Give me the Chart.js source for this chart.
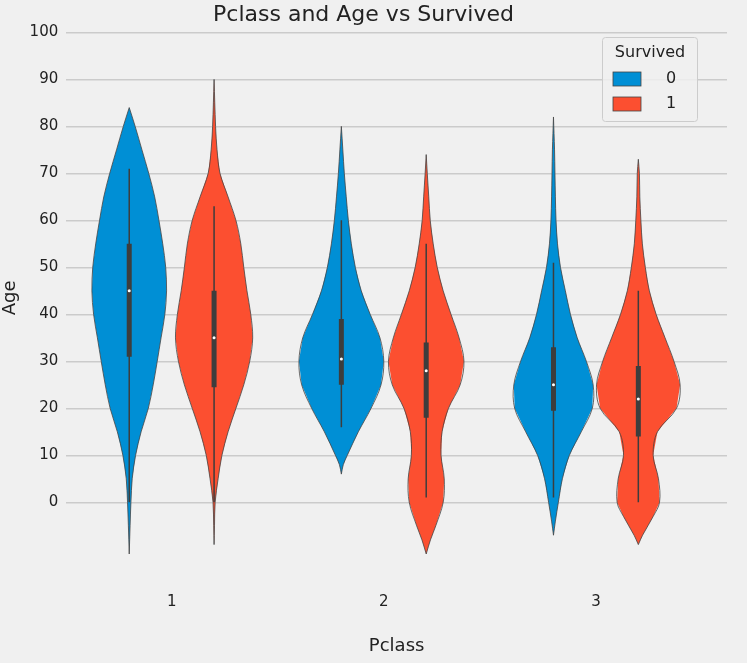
<!DOCTYPE html>
<html>
<head>
<meta charset="utf-8">
<script src="https://cdn.jsdelivr.net/npm/chart.js@4"></script>
<style>
  html, body { margin: 0; padding: 0; background: #f0f0f0; }
  #wrap { width: 747px; height: 663px; }
</style>
</head>
<body>
<div id="wrap"><canvas id="c"></canvas></div>
<script>
// categories and groups
const pclasses = [1, 2, 3];
const survivedGroups = ['0', '1'];
const groupColors = ['#008fd5', '#fc4f30'];

// violin profiles: age points and half-width (fraction of category spacing)
const ages = [
  [-11, -5, 0, 5, 10, 15, 20, 25, 30, 35, 40, 45, 50, 55, 60, 65, 70, 75, 80, 84],
  [-9, -5, 0, 5, 10, 15, 20, 25, 30, 35, 40, 45, 50, 55, 60, 65, 70, 75, 80, 90],
  [6, 8, 10, 15, 20, 25, 30, 35, 40, 45, 50, 55, 60, 65, 70, 75, 80],
  [-11, -8, -5, 0, 5, 10, 15, 20, 25, 30, 35, 40, 45, 50, 55, 60, 65, 70, 74],
  [-7, -4, 0, 5, 10, 15, 20, 25, 30, 35, 40, 45, 50, 55, 60, 65, 70, 75, 82],
  [-9, -7, -3, 0, 5, 10, 15, 20, 25, 30, 35, 40, 45, 50, 55, 60, 65, 70, 73]
];
const widths = [
  [0, 0.004, 0.008, 0.014, 0.03, 0.056, 0.09, 0.113, 0.132, 0.15, 0.168, 0.176, 0.172, 0.158, 0.14, 0.12, 0.092, 0.06, 0.028, 0],
  [0, 0.002, 0.005, 0.019, 0.037, 0.066, 0.103, 0.14, 0.168, 0.182, 0.173, 0.155, 0.14, 0.126, 0.103, 0.066, 0.028, 0.014, 0.007, 0],
  [0, 0.009, 0.028, 0.08, 0.14, 0.187, 0.2, 0.182, 0.136, 0.094, 0.066, 0.047, 0.033, 0.023, 0.014, 0.007, 0],
  [0, 0.02, 0.045, 0.08, 0.085, 0.07, 0.075, 0.105, 0.16, 0.178, 0.155, 0.117, 0.08, 0.052, 0.033, 0.019, 0.012, 0.005, 0],
  [0, 0.009, 0.023, 0.042, 0.075, 0.131, 0.183, 0.187, 0.155, 0.112, 0.08, 0.056, 0.033, 0.019, 0.012, 0.009, 0.007, 0.005, 0],
  [0, 0.02, 0.07, 0.1, 0.095, 0.07, 0.09, 0.18, 0.197, 0.168, 0.126, 0.084, 0.052, 0.033, 0.019, 0.012, 0.007, 0.005, 0]
];
// box stats: [whiskerLow, q1, median, q3, whiskerHigh]
const boxStats = [
  [0, 31, 45, 55, 71],
  [0, 24.5, 35, 45, 63],
  [16, 25, 30.5, 39, 60],
  [1, 18, 28, 34, 55],
  [1, 19.5, 25, 33, 51],
  [0, 14, 22, 29, 45]
];
const yTicks = [0, 10, 20, 30, 40, 50, 60, 70, 80, 90, 100];

const datasets = [];
const offsets = [-0.2, 0.2];
pclasses.forEach((pc, ci) => {
  survivedGroups.forEach((g, gi) => {
    const k = ci * 2 + gi;
    const cx = pc + offsets[gi];
    const pts = [];
    ages[k].forEach((a, i) => pts.push({x: cx - widths[k][i], y: a}));
    for (let i = ages[k].length - 1; i >= 0; i--) pts.push({x: cx + widths[k][i], y: ages[k][i]});
    datasets.push({
      label: 'violin', data: pts, showLine: true, violin: true,
      borderColor: '#444', borderWidth: 0.8, backgroundColor: groupColors[gi],
      pointRadius: 0, fill: false, tension: 0.35, order: 3
    });
    const b = boxStats[k];
    datasets.push({label: 'whisker', data: [{x: cx, y: b[0]}, {x: cx, y: b[4]}], showLine: true,
      borderColor: '#3d3d3d', borderWidth: 1.5, pointRadius: 0, order: 2});
    datasets.push({label: 'box', data: [{x: cx, y: b[1]}, {x: cx, y: b[3]}], showLine: true,
      borderColor: '#3d3d3d', borderWidth: 5, pointRadius: 0, order: 1});
    datasets.push({label: 'median', data: [{x: cx, y: b[2]}], pointRadius: 1.5, pointStyle: 'circle',
      backgroundColor: '#fff', borderWidth: 0, order: 0});
  });
});

const violinFill = {
  id: 'violinFill',
  beforeDatasetDraw(chart, args) {
    const ds = chart.data.datasets[args.index];
    if (!ds.violin) return;
    const pts = args.meta.data;
    const ctx = chart.ctx;
    ctx.save();
    ctx.beginPath();
    pts.forEach((p, i) => i ? ctx.lineTo(p.x, p.y) : ctx.moveTo(p.x, p.y));
    ctx.closePath();
    ctx.fillStyle = ds.backgroundColor;
    ctx.fill();
    ctx.restore();
  }
};

const legendBox = {
  id: 'legendBox',
  afterDraw(chart) {
    const ctx = chart.ctx;
    ctx.save();
    ctx.fillStyle = 'rgba(240,240,240,0.85)';
    ctx.strokeStyle = '#cccccc';
    ctx.lineWidth = 1;
    ctx.beginPath();
    ctx.roundRect(602.5, 37.5, 95, 84, 3);
    ctx.fill(); ctx.stroke();
    ctx.fillStyle = '#222';
    ctx.font = '16px "DejaVu Sans"';
    ctx.textAlign = 'center';
    ctx.textBaseline = 'middle';
    ctx.fillText('Survived', 650, 53);
    ctx.textAlign = 'left';
    survivedGroups.forEach((g, i) => {
      const y = 79 + i * 25;
      ctx.fillStyle = groupColors[i];
      ctx.strokeStyle = '#444';
      ctx.lineWidth = 0.8;
      ctx.fillRect(613, y - 7, 28, 14);
      ctx.strokeRect(613, y - 7, 28, 14);
      ctx.fillStyle = '#222';
      ctx.fillText(g, 666, y);
    });
    ctx.restore();
  }
};

new Chart(document.getElementById('c'), {
  type: 'scatter',
  data: { datasets },
  options: {
    responsive: true, maintainAspectRatio: false, animation: false,
    layout: { padding: { left: 0, right: 20, top: 2, bottom: 2 } },
    plugins: {
      legend: { display: false }, tooltip: { enabled: false },
      title: { display: true, text: 'Pclass and Age vs Survived', color: '#222',
        font: { family: 'DejaVu Sans', size: 22, weight: 'normal' }, padding: { top: 0, bottom: 4 } }
    },
    scales: {
      x: {
        min: 0.503, max: 3.618,
        afterBuildTicks: s => { s.ticks = pclasses.map(v => ({value: v})); },
        grid: { display: false }, border: { display: false },
        ticks: { color: '#222', font: { family: 'DejaVu Sans', size: 15 }, padding: 22 },
        title: { display: true, text: 'Pclass', color: '#222', font: { family: 'DejaVu Sans', size: 18 }, padding: { top: 2 } }
      },
      y: {
        min: -13, max: 100,
        afterBuildTicks: s => { s.ticks = yTicks.map(v => ({value: v})); },
        grid: { color: '#cbcbcb', lineWidth: 1.5, drawTicks: false }, border: { display: false },
        ticks: { color: '#222', font: { family: 'DejaVu Sans', size: 15 }, padding: 8 },
        title: { display: true, text: 'Age', color: '#222', font: { family: 'DejaVu Sans', size: 18 }, padding: 0 }
      }
    }
  },
  plugins: [violinFill, legendBox]
});
</script>
</body>
</html>
